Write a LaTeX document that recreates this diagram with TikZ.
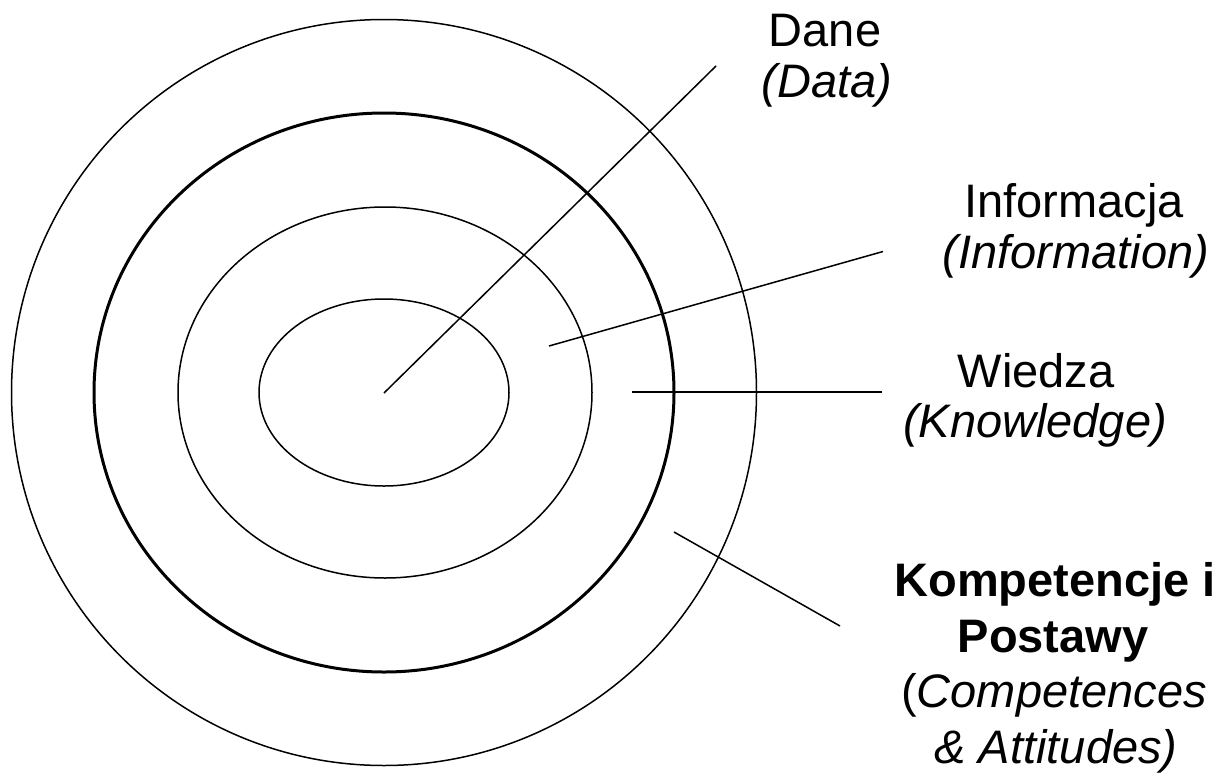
\documentclass[tikz,border=0pt]{standalone}
\usepackage{fontspec}
\setmainfont{Liberation Sans}
\begin{document}
\begin{tikzpicture}[x=1pt,y=-1pt,
  ring/.style={draw=black,line width=1.5pt},
  thickring/.style={draw=black,line width=3pt},
  pointer/.style={draw=black,line width=1.5pt},
  lbl/.style={anchor=base,inner sep=0pt,font=\fontsize{47}{56}\selectfont}]
\useasboundingbox (0,0) rectangle (1221,782);
\coordinate (c) at (384,392.5);
\draw[ring] (c) ellipse [x radius=372.5, y radius=373];
\draw[thickring] (c) ellipse [x radius=290, y radius=279.5];
\draw[ring] (385,392.5) ellipse [x radius=207, y radius=185.5];
\draw[ring] (384,392.5) ellipse [x radius=125, y radius=93.5];
% pointer ends
\coordinate (d0) at (384,393);   \coordinate (d1) at (716,66);
\coordinate (i0) at (549,346);   \coordinate (i1) at (883,251.5);
\coordinate (k0) at (632,392);   \coordinate (k1) at (882,392);
\coordinate (p0) at (674,532);   \coordinate (p1) at (840,626);
\draw[pointer] (d0) -- (d1);
\draw[pointer] (i0) -- (i1);
\draw[pointer] (k0) -- (k1);
\draw[pointer] (p0) -- (p1);
% labels
\node[lbl] (dane) at (825,46) {Dane};
\node[lbl] (data) at (827,97) {\itshape (Data)};
\node[lbl] (inf) at (1074,217) {Informacja};
\node[lbl] (infe) at (1076,268) {\itshape (Information)};
\node[lbl] (wie) at (1036,387) {Wiedza};
\node[lbl] (kno) at (1035,437) {\itshape (Knowledge)};
\node[lbl] (komp) at (1055,596) {\bfseries Kompetencje i};
\node[lbl] (post) at (1053,652) {\bfseries Postawy};
\node[lbl] (comp) at (1054,707) {(\textit{Competences}};
\node[lbl] (att) at (1056,763) {\itshape \& Attitudes)};
\end{tikzpicture}
\end{document}
